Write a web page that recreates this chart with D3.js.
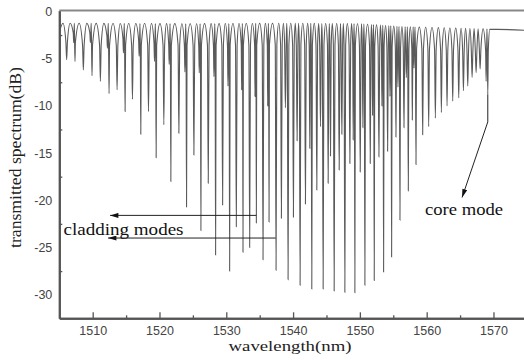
<!DOCTYPE html>
<html>
<head>
<meta charset="utf-8">
<script src="https://cdn.jsdelivr.net/npm/d3@7"></script>
<style>
body { margin: 0; background: #fff; }
</style>
</head>
<body>
<div id="chart"></div>
<script>
// resonance dips (wavelength nm, depth dB)
const dipWl = [1506.1, 1507.35, 1508.6, 1509.9, 1511.15, 1512.45, 1513.65, 1514.85, 1515.95, 1517.2,
    1518.35, 1519.5, 1520.65, 1521.7, 1522.9, 1524.05, 1525.15, 1526.2, 1527.3, 1528.4,
    1529.45, 1530.5, 1531.5, 1532.5, 1533.5, 1534.5, 1535.5, 1536.4, 1537.45, 1538.25,
    1539.25, 1540.05, 1541.05, 1541.85, 1542.8, 1543.55, 1544.5, 1545.25, 1546.15, 1546.9,
    1547.75, 1548.5, 1549.25, 1550.05, 1550.75, 1551.55, 1552.15, 1552.85, 1553.55, 1554.15,
    1554.75, 1555.4, 1556.0, 1556.6, 1557.25, 1557.85, 1558.4, 1559.4, 1560.3, 1561.3,
    1562.2, 1563.05, 1563.9, 1564.8, 1565.5, 1566.15, 1566.8, 1567.4, 1568.0];
const dipDepth = [-5.1, -5.3, -6.2, -6.8, -7.4, -8.7, -8.3, -10.6, -9.3, -13.0,
    -10.6, -15.5, -12.0, -18.0, -12.9, -20.7, -15.2, -23.2, -18.2, -25.8,
    -20.5, -27.5, -22.8, -25.5, -25.0, -22.4, -26.3, -22.3, -27.4, -21.9,
    -28.4, -21.8, -29.0, -20.4, -29.4, -18.9, -29.4, -18.2, -29.6, -16.8,
    -29.75, -16.1, -29.8, -17.0, -29.0, -16.1, -28.5, -15.4, -27.6, -14.8,
    -26.0, -13.3, -22.1, -12.3, -19.0, -11.5, -16.2, -13.05, -12.2, -11.3,
    -10.7, -10.0, -9.5, -9.15, -8.4, -7.9, -7.0, -6.5, -6.1];

// shallow companion dips next to the main ones
const satWl = [1507.15, 1509.65, 1512.2, 1514.6, 1516.95, 1519.25, 1521.45, 1523.8, 1525.95, 1528.15,
    1530.25, 1532.3, 1534.3, 1536.2, 1538.85, 1540.6, 1542.5, 1544.1, 1545.6, 1547.3,
    1549.0, 1550.45, 1551.9, 1553.3, 1554.5, 1555.7, 1556.95, 1558.1, 1568.9];
const satDepth = [-3.3, -3.3, -3.9, -4.4, -4.75, -5.3, -5.6, -6.4, -6.5, -6.9,
    -7.9, -8.3, -9.0, -10.0, -10.2, -13.7, -14.5, -12.2, -15.3, -13.0,
    -13.6, -12.3, -11.0, -10.0, -9.0, -8.0, -7.0, -6.0, -7.4];

// level of the arches between dips
const topWl = [1505, 1525, 1540, 1550, 1556, 1568.6];
const topLevel = [-1.25, -1.3, -1.25, -1.3, -1.6, -1.85];

// core mode and flat tail after it
const coreWl = 1569.15;
const coreDepth = -8.8;
const startLevel = -2.2;
const tailWl = [1569.45, 1570.6, 1574.6];
const tailLevel = [-1.9, -1.9, -2.0];

const xTicks = [1510, 1520, 1530, 1540, 1550, 1560, 1570];
const xMinor = [1515, 1525, 1535, 1545, 1555, 1565];
const yTicks = [0, -5, -10, -15, -20, -25, -30];
const yMinor = [-2.5, -7.5, -12.5, -17.5, -22.5, -27.5];

// annotations: [x1, y1, x2, y2] in data units, arrow at the second end
const claddingArrows = [[1534.5, -21.6, 1512.6, -21.6], [1537.4, -24.0, 1512.3, -24.0]];
const coreLeader = [coreWl, coreDepth, coreWl, -11.7];
const coreArrow = [coreWl, -11.7, 1565.3, -19.7];

const width = 524, height = 360;

let svg = d3.select("#chart").append("svg")
    .attr("width", width)
    .attr("height", height);

let x = d3.scaleLinear().domain([1505, 1574.6]).range([59.3, 524.2]);
let y = d3.scaleLinear().domain([-32.5, 0.1]).range([318.3, 10.5]);
let archLevel = d3.scaleLinear().domain(topWl).range(topLevel).clamp(true);

// build the spectrum trace: arch tops between dips, narrow spikes at the dips
let dips = dipWl.map((w, i) => ({w: w, d: dipDepth[i]}))
    .concat(satWl.map((w, i) => ({w: w, d: satDepth[i]})))
    .concat([{w: coreWl, d: coreDepth}])
    .sort((a, b) => a.w - b.w);

let pts = [[1505, startLevel]];
dips.forEach(function(p, i) {
    let prev = i ? dips[i - 1].w : 1505;
    let next = i < dips.length - 1 ? dips[i + 1].w : tailWl[0];
    let mid = (prev + p.w) / 2;
    pts.push([mid, archLevel(mid)]);
    let t = archLevel(p.w);
    let s = Math.min(0.12, Math.min(p.w - prev, next - p.w) * 0.3);
    let sh = t - Math.min(2.3, (t - p.d) * 0.5);
    pts.push([p.w - s, sh], [p.w, p.d], [p.w + s, sh]);
});
tailWl.forEach((w, i) => pts.push([w, tailLevel[i]]));

let defs = svg.append("defs");
defs.append("clipPath")
    .attr("id", "plotClip")
    .append("rect")
    .attr("x", x.range()[0])
    .attr("y", y.range()[1])
    .attr("width", x.range()[1] - x.range()[0])
    .attr("height", y.range()[0] - y.range()[1]);

let line = d3.line()
    .x(d => x(d[0]))
    .y(d => y(d[1]))
    .curve(d3.curveMonotoneX);

svg.append("path")
    .datum(pts)
    .attr("clip-path", "url(#plotClip)")
    .attr("d", line)
    .style("fill", "none")
    .style("stroke", "#5a5a5a")
    .style("stroke-width", 1.1);

// axes
svg.append("g")
    .attr("transform", "translate(0," + y.range()[0] + ")")
    .call(d3.axisBottom(x).tickValues(xTicks).tickFormat(d => String(d))
        .tickSizeInner(-6).tickSizeOuter(0).tickPadding(8));

svg.append("g")
    .attr("transform", "translate(0," + y.range()[0] + ")")
    .call(d3.axisBottom(x).tickValues(xMinor).tickSizeInner(-3).tickSizeOuter(0).tickFormat(""));

svg.append("g")
    .attr("transform", "translate(" + x.range()[0] + ",0)")
    .call(d3.axisLeft(y).tickValues(yTicks).tickFormat(d => String(d))
        .tickSize(0).tickPadding(7));

svg.append("g")
    .attr("transform", "translate(" + x.range()[0] + ",0)")
    .call(d3.axisLeft(y).tickValues(yMinor).tickSizeInner(-3).tickSizeOuter(0).tickFormat(""));

svg.selectAll(".domain")
    .style("stroke", "#555")
    .style("stroke-width", 2);
svg.selectAll(".tick line")
    .style("stroke", "#555")
    .style("stroke-width", 1.3);
svg.selectAll(".tick text")
    .style("font-family", "'Liberation Sans', Arial, sans-serif")
    .style("font-size", "12.5px")
    .style("fill", "#444");

// top frame line
svg.append("line")
    .attr("x1", x.range()[0])
    .attr("x2", x.range()[1])
    .attr("y1", y.range()[1])
    .attr("y2", y.range()[1])
    .style("stroke", "#888")
    .style("stroke-width", 2);

// axis titles
svg.append("text")
    .attr("x", 290)
    .attr("y", 351)
    .attr("text-anchor", "middle")
    .attr("textLength", 123)
    .attr("lengthAdjust", "spacingAndGlyphs")
    .style("font-family", "'Liberation Serif', 'Times New Roman', serif")
    .style("font-size", "15px")
    .style("fill", "#222")
    .text("wavelength(nm)");

svg.append("text")
    .attr("transform", "translate(21,157.5) rotate(-90)")
    .attr("text-anchor", "middle")
    .attr("textLength", 181)
    .attr("lengthAdjust", "spacingAndGlyphs")
    .style("font-family", "'Liberation Serif', 'Times New Roman', serif")
    .style("font-size", "16px")
    .style("fill", "#222")
    .text("transmitted spectrum(dB)");

// annotations
let marker = defs.append("marker")
    .attr("id", "head")
    .attr("viewBox", "0 0 10 6")
    .attr("refX", 10)
    .attr("refY", 3)
    .attr("markerWidth", 9)
    .attr("markerHeight", 5)
    .attr("markerUnits", "userSpaceOnUse")
    .attr("orient", "auto");
marker.append("path")
    .attr("d", "M0,0L10,3L0,6Z")
    .style("fill", "#111");

function arrow(a, head) {
    let l = svg.append("line")
        .attr("x1", x(a[0]))
        .attr("y1", y(a[1]))
        .attr("x2", x(a[2]))
        .attr("y2", y(a[3]))
        .style("stroke", "#222")
        .style("stroke-width", 1);
    if (head) l.attr("marker-end", "url(#head)");
}

claddingArrows.forEach(a => arrow(a, true));
arrow(coreLeader, false);
arrow(coreArrow, true);

svg.append("text")
    .attr("x", 63.5)
    .attr("y", 234.5)
    .attr("textLength", 120)
    .attr("lengthAdjust", "spacingAndGlyphs")
    .style("font-family", "'Liberation Serif', 'Times New Roman', serif")
    .style("font-size", "17px")
    .style("fill", "#111")
    .text("cladding modes");

svg.append("text")
    .attr("x", 425)
    .attr("y", 215)
    .attr("textLength", 78)
    .attr("lengthAdjust", "spacingAndGlyphs")
    .style("font-family", "'Liberation Serif', 'Times New Roman', serif")
    .style("font-size", "16px")
    .style("fill", "#111")
    .text("core mode");
</script>
</body>
</html>
